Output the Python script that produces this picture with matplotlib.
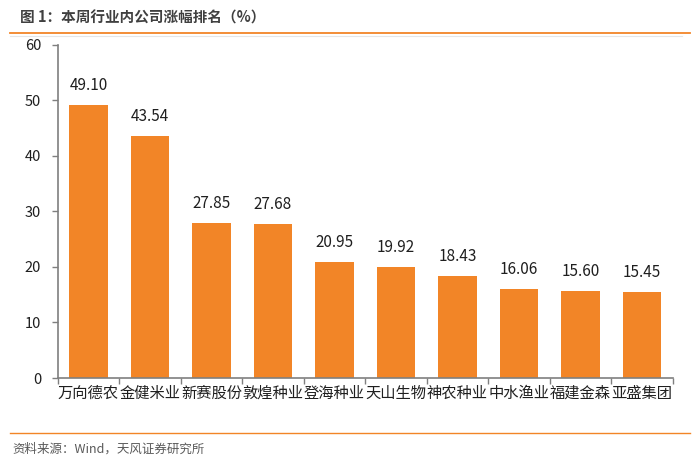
import matplotlib
matplotlib.use('Agg')
import matplotlib.pyplot as plt
from matplotlib.lines import Line2D

plt.rcParams['font.family'] = ['Noto Sans CJK SC', 'DejaVu Sans']

# data
companies = ['万向德农', '金健米业', '新赛股份', '敦煌种业', '登海种业',
             '天山生物', '神农种业', '中水渔业', '福建金森', '亚盛集团']
changes = [49.10, 43.54, 27.85, 27.68, 20.95, 19.92, 18.43, 16.06, 15.60, 15.45]
y_ticks = [0, 10, 20, 30, 40, 50, 60]

title = '图 1：本周行业内公司涨幅排名（%）'
source = '资料来源：Wind，天风证券研究所'

orange = '#F28527'
text_col = '#1F1F1F'
axis_col = '#7F7F7F'

fig = plt.figure(figsize=(6.99, 4.68), dpi=100)
ax = fig.add_axes([0.0825, 0.1923, 0.88, 0.7122])

x = list(range(len(companies)))
bars = ax.bar(x, changes, width=0.63, color=orange)
for b, v in zip(bars, changes):
    ax.text(b.get_x() + b.get_width() / 2, v + 2.0, f'{v:.2f}',
            ha='center', va='bottom', fontsize=11, color=text_col)

ax.set_xlim(-0.5, len(companies) - 0.5)
ax.set_ylim(0, 60)
ax.set_yticks(y_ticks)
ax.set_xticks([i - 0.5 for i in range(len(companies) + 1)], minor=False)
ax.set_xticklabels([''] * (len(companies) + 1))
ax.set_xticks(x, minor=True)
ax.set_xticklabels(companies, minor=True, fontsize=11, color=text_col)
ax.tick_params(axis='x', which='minor', length=0, pad=5)
ax.tick_params(axis='x', which='major', length=4, color=axis_col, width=1)
ax.tick_params(axis='y', length=4, color=axis_col, width=1, labelsize=10.5,
               labelcolor=text_col, pad=8)

for s in ['top', 'right']:
    ax.spines[s].set_visible(False)
for s in ['left', 'bottom']:
    ax.spines[s].set_color(axis_col)
    ax.spines[s].set_linewidth(1.2)

# header and footer
fig.text(20 / 699, 1 - 18 / 468, title, fontsize=10.5, fontweight='bold',
         color='#404040', va='center', ha='left')
fig.add_artist(Line2D([10 / 699, 690 / 699], [1 - 32.5 / 468] * 2,
                      color=orange, lw=1.3))
fig.add_artist(Line2D([10 / 699, 682 / 699], [1 - 35.5 / 468] * 2,
                      color='#E6E6E6', lw=0.8))
fig.add_artist(Line2D([10 / 699, 690 / 699], [1 - 433 / 468] * 2,
                      color=orange, lw=1.0))
fig.text(12 / 699, 1 - 449 / 468, source, fontsize=9, color='#595959',
         va='center', ha='left')

fig.savefig('out.png', dpi=100)
